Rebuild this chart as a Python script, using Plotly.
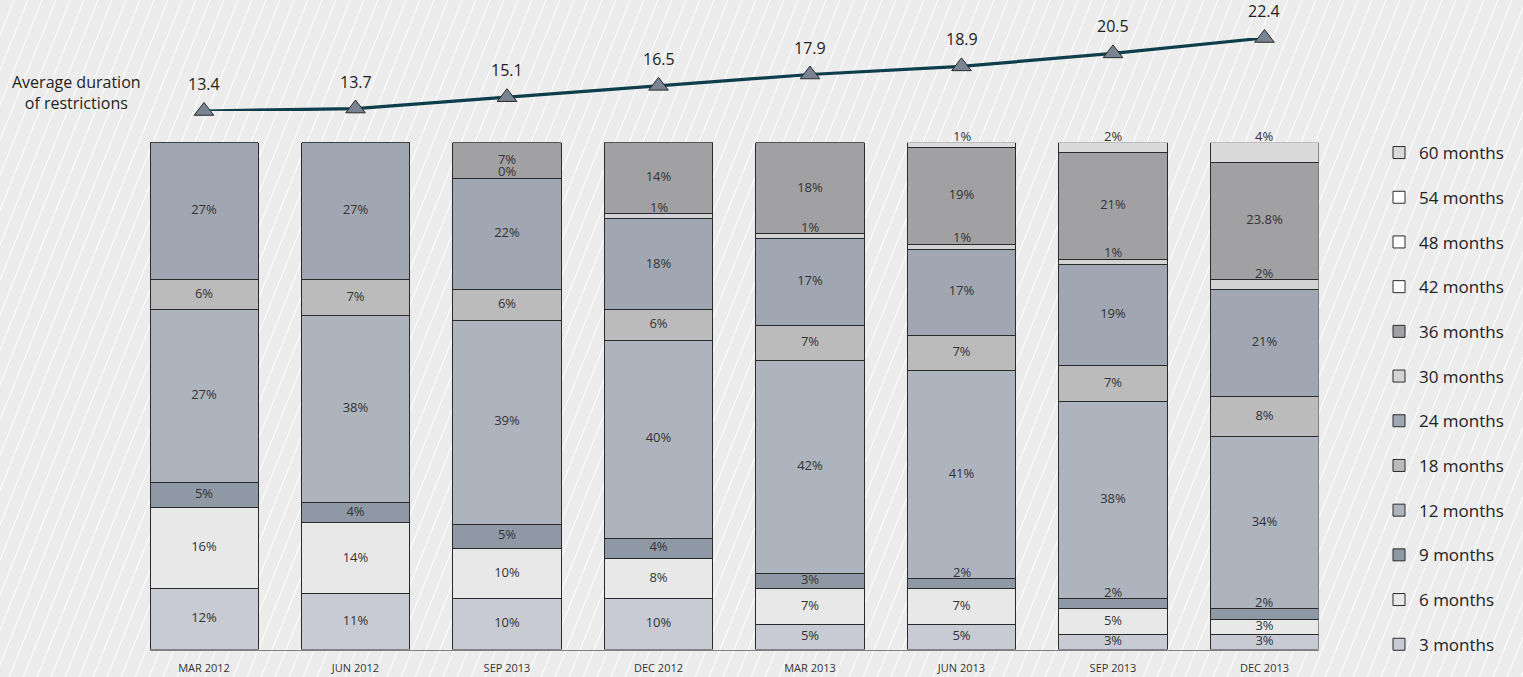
import plotly.graph_objects as go

# ---------------- data ----------------
periods = ["MAR 2012", "JUN 2012", "SEP 2013", "DEC 2012",
           "MAR 2013", "JUN 2013", "SEP 2013", "DEC 2013"]
avg_duration = [13.4, 13.7, 15.1, 16.5, 17.9, 18.9, 20.5, 22.4]

series_names = ["3 months", "6 months", "9 months", "12 months", "18 months",
                "24 months", "30 months", "36 months", "42 months",
                "48 months", "54 months", "60 months"]

# segment heights (share of bar)
m3 = [12, 11, 10, 10, 5, 5, 3, 3]
m6 = [16, 14, 10, 8, 7, 7, 5, 3]
m9 = [5, 4, 4.7, 4, 3, 2, 2, 2]
m12 = [34, 37, 40.3, 39, 42, 41, 39, 34]
m18 = [6, 7, 6, 6, 7, 7, 7, 8]
m24 = [27, 27, 22, 18, 17, 17, 20, 21]
m30 = [0, 0, 0, 1, 1, 1, 1, 2]
m36 = [0, 0, 7, 14, 18, 19, 21, 23]
m42 = [0, 0, 0, 0, 0, 0, 0, 0]
m48 = [0, 0, 0, 0, 0, 0, 0, 0]
m54 = [0, 0, 0, 0, 0, 0, 0, 0]
m60 = [0, 0, 0, 0, 0, 1, 2, 4]

# printed labels (as shown on the chart)
lab3 = ["12%", "11%", "10%", "10%", "5%", "5%", "3%", "3%"]
lab6 = ["16%", "14%", "10%", "8%", "7%", "7%", "5%", "3%"]
lab9 = ["5%", "4%", "5%", "4%", "3%", "2%", "2%", "2%"]
lab12 = ["27%", "38%", "39%", "40%", "42%", "41%", "38%", "34%"]
lab18 = ["6%", "7%", "6%", "6%", "7%", "7%", "7%", "8%"]
lab24 = ["27%", "27%", "22%", "18%", "17%", "17%", "19%", "21%"]
lab30 = ["", "", "0%", "1%", "1%", "1%", "1%", "2%"]
lab36 = ["", "", "7%", "14%", "18%", "19%", "21%", "23.8%"]
lab42 = [""] * 8
lab48 = [""] * 8
lab54 = [""] * 8
lab60 = ["", "", "", "", "", "1%", "2%", "4%"]

values = [m3, m6, m9, m12, m18, m24, m30, m36, m42, m48, m54, m60]
labels = [lab3, lab6, lab9, lab12, lab18, lab24, lab30, lab36, lab42, lab48, lab54, lab60]

colors = ["#c8cbd3", "#e8e8e8", "#8f99a5", "#adb4be", "#bcbbbc", "#a0a7b2",
          "#d3d3d3", "#a1a1a3", "#ffffff", "#ffffff", "#ffffff", "#dadada"]

FONT = "'Open Sans', 'Noto Sans', sans-serif"
xs = list(range(len(periods)))
W, H = 1523, 677

fig = go.Figure()

# stacked bars (legend listed from longest to shortest duration)
for k, (name, vals, col) in enumerate(zip(series_names, values, colors)):
    fig.add_trace(go.Bar(
        x=xs, y=vals, name=name, width=0.713,
        marker=dict(color=col, line=dict(color="#2a2a2a", width=1)),
        legendgroup=name, legendrank=100 - k, hoverinfo="skip",
    ))

# segment labels, positioned from the cumulative stack
annotations = []
lx, ly, lt = [], [], []
base = [0.0] * len(periods)
for name, vals, labs in zip(series_names, values, labels):
    for i, (v, t) in enumerate(zip(vals, labs)):
        if t:
            if name == "60 months" or v < 2.5:
                # thin segment: label sits just above its top edge
                annotations.append(dict(x=i, y=base[i] + v, xref="x", yref="y",
                                        text=t, showarrow=False, yshift=7,
                                        xanchor="center", yanchor="middle",
                                        font=dict(size=13, color="#333333", family=FONT)))
            else:
                lx.append(i); ly.append(base[i] + v / 2); lt.append(t)
        base[i] += v
fig.add_trace(go.Scatter(
    x=lx, y=ly, text=lt, mode="text", textposition="middle center",
    textfont=dict(size=13, color="#333333", family=FONT),
    showlegend=False, hoverinfo="skip", cliponaxis=False,
))

# average duration line
fig.add_trace(go.Scatter(
    x=xs, y=avg_duration, yaxis="y2", mode="lines+markers",
    line=dict(color="#0e3d4c", width=3.2),
    marker=dict(symbol="triangle-up", size=17, color="#798493",
                line=dict(color="#2a2a2a", width=1)),
    showlegend=False, hoverinfo="skip", cliponaxis=False,
))

annotations += [dict(x=i, y=v, xref="x", yref="y2", text=f"{v:.1f}",
                     showarrow=False, yshift=27, xanchor="center", yanchor="middle",
                     font=dict(size=16, color="#222222", family=FONT))
                for i, v in zip(xs, avg_duration)]
annotations.append(dict(text="Average duration<br>of restrictions", x=76 / W,
                        y=(H - 93) / H, xref="paper", yref="paper",
                        xanchor="center", yanchor="middle",
                        showarrow=False, align="center",
                        font=dict(size=16, color="#222222", family=FONT)))

# diagonal stripe background
shapes = []
dx = H / 2.5
x = -dx
while x < W + 20:
    shapes.append(dict(type="line", xref="paper", yref="paper",
                       x0=x / W, y0=0, x1=(x + dx) / W, y1=1,
                       line=dict(color="#ffffff", width=1), layer="below"))
    x += 14

fig.update_layout(
    width=W, height=H,
    margin=dict(l=0, r=0, t=0, b=0),
    paper_bgcolor="#ececec", plot_bgcolor="rgba(0,0,0,0)",
    barmode="stack",
    font=dict(family=FONT, color="#222222"),
    shapes=shapes,
    annotations=annotations,
    xaxis=dict(domain=[150 / W, 1318.5 / W], range=[-0.3565, 7.3565],
               tickvals=xs, ticktext=periods, showgrid=False, zeroline=False,
               showline=True, linecolor="#808080", linewidth=1, ticks="",
               ticklabelstandoff=8,
               tickfont=dict(size=11, color="#333333", family=FONT)),
    yaxis=dict(domain=[(H - 649.5) / H, (H - 142.7) / H], range=[0, 100],
               visible=False),
    yaxis2=dict(domain=[(H - 111) / H, (H - 38) / H], range=[13.4, 22.4],
                anchor="x", visible=False),
    legend=dict(x=1379 / W, xanchor="left", y=(H - 135) / H, yanchor="top",
                bgcolor="rgba(0,0,0,0)", traceorder="grouped",
                tracegroupgap=19.6, font=dict(size=17, color="#222222", family=FONT)),
)

fig.write_html("out.html", config={"displayModeBar": False},
               post_script="document.body.style.margin='0px';")
